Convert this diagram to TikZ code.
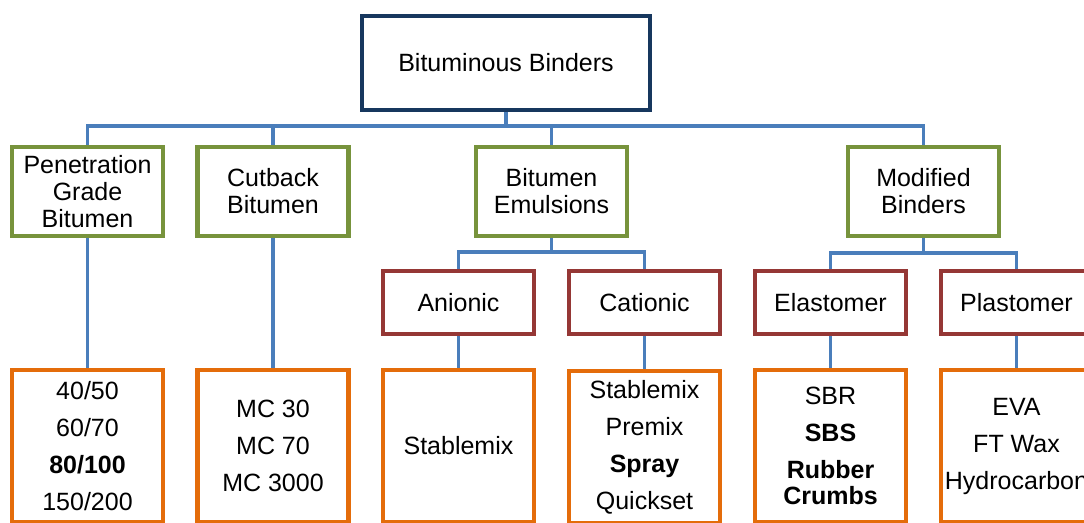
\documentclass[tikz,border=0pt]{standalone}
\usepackage{fontspec}
\setmainfont{Liberation Sans}
\usetikzlibrary{backgrounds}
\definecolor{navyc}{HTML}{17375E}
\definecolor{greenc}{HTML}{77933C}
\definecolor{redc}{HTML}{953735}
\definecolor{orangec}{HTML}{E46C0A}
\definecolor{bluec}{HTML}{4A7EBB}
\begin{document}
\begin{tikzpicture}[x=1pt,y=-1pt,
  box/.style={draw, line width=4.5pt, fill=white, inner sep=0pt, outer sep=0pt, align=center, text=black, font=\fontsize{25}{27}\selectfont},
  rootbox/.style={box, draw=navyc, minimum width=288pt, minimum height=94pt},
  lone/.style={box, draw=greenc, minimum width=151pt, minimum height=89pt},
  ltwo/.style={box, draw=redc, minimum width=151pt, minimum height=63pt},
  lthree/.style={box, draw=orangec, minimum width=151pt, minimum height=152pt, font=\fontsize{25}{37}\selectfont},
  conn/.style={draw=bluec, line width=3.6pt}]
\useasboundingbox (0,0) rectangle (1084,522);
\clip (0,0) rectangle (1084,522);
\node[rootbox] (root) at (506,63) {Bituminous Binders};
\node[lone] (pen) at (87.5,191.5) {Penetration\\Grade\\Bitumen};
\node[lone] (cut) at (273,191.5) {Cutback\\Bitumen};
\node[lone] (emul) at (551.5,191.5) {Bitumen\\Emulsions};
\node[lone] (mod) at (923.5,191.5) {Modified\\Binders};
\node[ltwo] (anion) at (458.5,302.5) {Anionic};
\node[ltwo] (cation) at (644.5,302.5) {Cationic};
\node[ltwo] (elast) at (830.5,302.5) {Elastomer};
\node[ltwo] (plast) at (1016.5,302.5) {Plastomer};
\node[lthree] (pen3) at (87.5,446) {40/50\\60/70\\\textbf{80/100}\\150/200};
\node[lthree] (cut3) at (273,446) {MC 30\\MC 70\\MC 3000};
\node[lthree] (anion3) at (458.5,446) {Stablemix};
\node[lthree] (cation3) at (644.5,447) {Stablemix\\Premix\\\textbf{Spray}\\Quickset};
\node[lthree] (elast3) at (830.5,446) {SBR\\\textbf{SBS}\\\textbf{Rubber}\\[-11pt]\textbf{Crumbs}};
\node[lthree] (plast3) at (1016.5,446) {EVA\\FT Wax\\Hydrocarbon};
\begin{scope}[on background layer]
\fill[white] (0,0) rectangle (1084,522);
\draw[conn] (root.south) -- ++(0,16) -| (pen.north);
\draw[conn] (root.south) -- ++(0,16) -| (cut.north);
\draw[conn] (root.south) -- ++(0,16) -| (emul.north);
\draw[conn] (root.south) -- ++(0,16) -| (mod.north);
\draw[conn] (emul.south) -- ++(0,16) -| (anion.north);
\draw[conn] (emul.south) -- ++(0,16) -| (cation.north);
\draw[conn] (mod.south) -- ++(0,17) -| (elast.north);
\draw[conn] (mod.south) -- ++(0,17) -| (plast.north);
\draw[conn] (pen.south) -- (pen3.north);
\draw[conn] (cut.south) -- (cut3.north);
\draw[conn] (anion.south) -- (anion3.north);
\draw[conn] (cation.south) -- (cation3.north);
\draw[conn] (elast.south) -- (elast3.north);
\draw[conn] (plast.south) -- (plast3.north);
\end{scope}
\end{tikzpicture}
\end{document}
